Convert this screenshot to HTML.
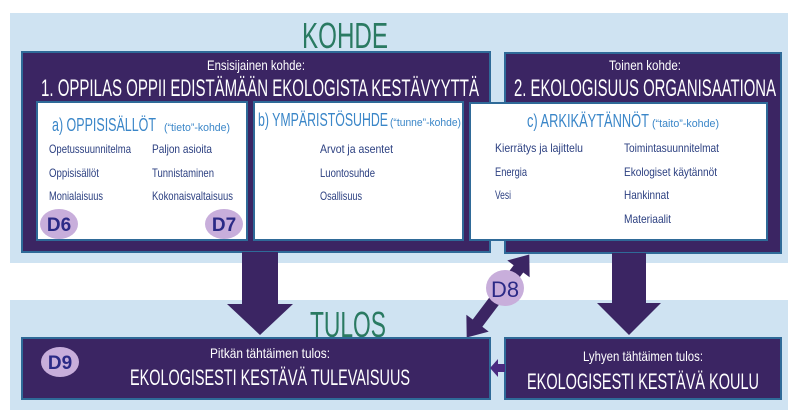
<!DOCTYPE html>
<html><head><meta charset="utf-8"><style>
html,body{margin:0;padding:0;background:#fff;}
svg{display:block;font-family:"Liberation Sans Narrow","Liberation Sans",sans-serif;}
</style></head><body>
<svg width="800" height="417" viewBox="0 0 800 417" xmlns="http://www.w3.org/2000/svg">
<rect x="0" y="0" width="800" height="417" fill="#fff"/>
<rect x="10" y="13" width="778" height="250" fill="#cfe3f2"/>
<rect x="10" y="300" width="778" height="110" fill="#cfe3f2"/>
<text x="345" y="48" font-size="36" fill="#2a7a62" text-anchor="middle" textLength="86" lengthAdjust="spacingAndGlyphs">KOHDE</text>
<text x="348" y="337" font-size="36" fill="#2a7a62" text-anchor="middle" textLength="76" lengthAdjust="spacingAndGlyphs">TULOS</text>

<!-- box1 -->
<rect x="22" y="52" width="468" height="200" fill="#3b2563" stroke="#2f6a98" stroke-width="2"/>
<text x="256" y="70" font-size="14" fill="#fff" text-anchor="middle" textLength="98" lengthAdjust="spacingAndGlyphs">Ensisijainen kohde:</text>
<text x="260" y="96" font-size="24" fill="#fff" text-anchor="middle" textLength="438" lengthAdjust="spacingAndGlyphs">1. OPPILAS OPPII EDISTÄMÄÄN EKOLOGISTA KESTÄVYYTTÄ</text>
<!-- box2 -->
<rect x="505" y="53" width="276" height="200" fill="#3b2563" stroke="#2f6a98" stroke-width="2"/>
<text x="645" y="70" font-size="14" fill="#fff" text-anchor="middle" textLength="72" lengthAdjust="spacingAndGlyphs">Toinen kohde:</text>
<text x="645" y="96" font-size="24" fill="#fff" text-anchor="middle" textLength="262" lengthAdjust="spacingAndGlyphs">2. EKOLOGISUUS ORGANISAATIONA</text>

<!-- inner a -->
<rect x="37" y="102" width="210" height="138" fill="#fff" stroke="#2f6a98" stroke-width="2"/>
<text x="52" y="131" font-size="18" fill="#3a86c8" textLength="104" lengthAdjust="spacingAndGlyphs">a) OPPISISÄLLÖT</text>
<text x="164" y="131" font-size="11" fill="#3a86c8" textLength="66" lengthAdjust="spacingAndGlyphs">(“tieto”-kohde)</text>
<g font-size="12" fill="#2b3f80">
<text x="49" y="153" textLength="82" lengthAdjust="spacingAndGlyphs">Opetussuunnitelma</text>
<text x="152" y="153" textLength="60" lengthAdjust="spacingAndGlyphs">Paljon asioita</text>
<text x="49" y="177" textLength="50" lengthAdjust="spacingAndGlyphs">Oppisisällöt</text>
<text x="152" y="177" textLength="62" lengthAdjust="spacingAndGlyphs">Tunnistaminen</text>
<text x="49" y="200" textLength="54" lengthAdjust="spacingAndGlyphs">Monialaisuus</text>
<text x="152" y="200" textLength="81" lengthAdjust="spacingAndGlyphs">Kokonaisvaltaisuus</text>
</g>
<ellipse cx="59" cy="224" rx="19" ry="15" fill="#c8aedb"/>
<text x="59" y="231" font-size="19" font-weight="bold" fill="#2b2a86" text-anchor="middle" font-family="Liberation Sans,sans-serif">D6</text>
<ellipse cx="224" cy="224" rx="19" ry="15" fill="#c8aedb"/>
<text x="224" y="231" font-size="19" font-weight="bold" fill="#2b2a86" text-anchor="middle" font-family="Liberation Sans,sans-serif">D7</text>

<!-- inner b -->
<rect x="254" y="102" width="209" height="138" fill="#fff" stroke="#2f6a98" stroke-width="2"/>
<text x="258" y="126" font-size="18" fill="#3a86c8" textLength="130" lengthAdjust="spacingAndGlyphs">b) YMPÄRISTÖSUHDE</text>
<text x="390" y="126" font-size="11" fill="#3a86c8" textLength="71" lengthAdjust="spacingAndGlyphs">(“tunne”-kohde)</text>
<g font-size="12" fill="#2b3f80">
<text x="320" y="153" textLength="73" lengthAdjust="spacingAndGlyphs">Arvot ja asentet</text>
<text x="320" y="177" textLength="55" lengthAdjust="spacingAndGlyphs">Luontosuhde</text>
<text x="320" y="200" textLength="42" lengthAdjust="spacingAndGlyphs">Osallisuus</text>
</g>

<!-- inner c -->
<rect x="470" y="103" width="297" height="137" fill="#fff" stroke="#2f6a98" stroke-width="2"/>
<text x="527" y="127" font-size="18" fill="#3a86c8" textLength="122" lengthAdjust="spacingAndGlyphs">c) ARKIKÄYTÄNNÖT</text>
<text x="652" y="127" font-size="11" fill="#3a86c8" textLength="67" lengthAdjust="spacingAndGlyphs">(“taito”-kohde)</text>
<g font-size="12" fill="#2b3f80">
<text x="495" y="152" textLength="88" lengthAdjust="spacingAndGlyphs">Kierrätys ja lajittelu</text>
<text x="624" y="152" textLength="95" lengthAdjust="spacingAndGlyphs">Toimintasuunnitelmat</text>
<text x="495" y="176" textLength="32" lengthAdjust="spacingAndGlyphs">Energia</text>
<text x="624" y="176" textLength="93" lengthAdjust="spacingAndGlyphs">Ekologiset käytännöt</text>
<text x="495" y="199" textLength="16" lengthAdjust="spacingAndGlyphs">Vesi</text>
<text x="624" y="199" textLength="45" lengthAdjust="spacingAndGlyphs">Hankinnat</text>
<text x="624" y="223" textLength="47" lengthAdjust="spacingAndGlyphs">Materiaalit</text>
</g>

<!-- down arrows -->
<polygon points="242,252 278,252 278,304 293,304 260,335 227,304 242,304" fill="#3b2563"/>
<polygon points="612,253 646,253 646,303 661,303 629,335 597,303 612,303" fill="#3b2563"/>

<!-- double arrow D8 -->
<g transform="translate(498,296) rotate(-53)">
<polygon points="-52,0 -34,-14 -34,-6 34,-6 34,-14 52,0 34,14 34,6 -34,6 -34,14" fill="#3b2563"/>
</g>
<ellipse cx="505" cy="288" rx="19" ry="18" fill="#c8aedb"/>
<text x="505" y="297" font-size="22" fill="#2b2a86" text-anchor="middle" textLength="28" lengthAdjust="spacingAndGlyphs" font-family="Liberation Sans,sans-serif">D8</text>

<!-- bottom boxes -->
<rect x="22" y="338" width="468" height="61" fill="#3b2563" stroke="#2f6a98" stroke-width="2"/>
<text x="270" y="358" font-size="14" fill="#fff" text-anchor="middle" textLength="120" lengthAdjust="spacingAndGlyphs">Pitkän tähtäimen tulos:</text>
<text x="270" y="385" font-size="22" fill="#fff" text-anchor="middle" textLength="280" lengthAdjust="spacingAndGlyphs">EKOLOGISESTI KESTÄVÄ TULEVAISUUS</text>
<ellipse cx="60" cy="362" rx="19" ry="15" fill="#c8aedb"/>
<text x="60" y="369" font-size="19" font-weight="bold" fill="#2b2a86" text-anchor="middle" font-family="Liberation Sans,sans-serif">D9</text>

<rect x="505" y="338" width="276" height="61" fill="#3b2563" stroke="#2f6a98" stroke-width="2"/>
<text x="643" y="361" font-size="14" fill="#fff" text-anchor="middle" textLength="120" lengthAdjust="spacingAndGlyphs">Lyhyen tähtäimen tulos:</text>
<text x="643" y="389" font-size="22" fill="#fff" text-anchor="middle" textLength="232" lengthAdjust="spacingAndGlyphs">EKOLOGISESTI KESTÄVÄ KOULU</text>

<polygon points="505,364 498,364 498,359 490,368 498,377 498,372 505,372" fill="#4a2a80"/>
</svg>
</body></html>
